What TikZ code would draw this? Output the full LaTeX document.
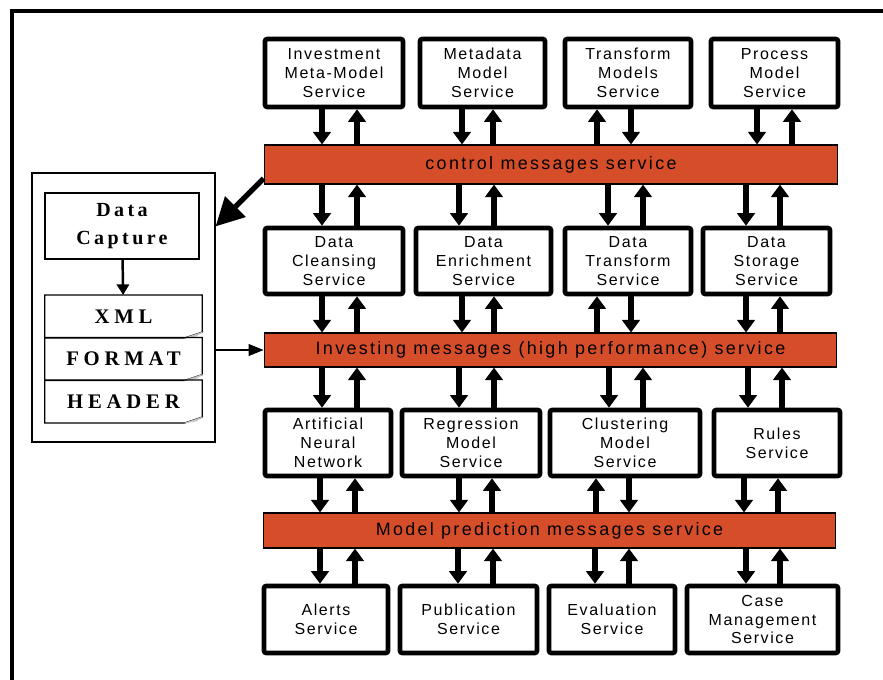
\documentclass[tikz,border=0pt]{standalone}
\usepackage{fontspec}
\usetikzlibrary{arrows.meta}

\newfontfamily\svcfont[LetterSpace=10]{Liberation Sans}
\newfontfamily\barfont[LetterSpace=13]{Liberation Sans}
\newfontfamily\capfont[LetterSpace=17]{Liberation Serif}
\newfontfamily\docfont[LetterSpace=23]{Liberation Serif}
\definecolor{barred}{RGB}{214,77,42}

\begin{document}
\begin{tikzpicture}[x=0.02cm, y=-0.02cm,
    svc/.style={draw, line width=2.6pt, fill=white, rounded corners=1.2pt, align=center,
      inner sep=0pt, font=\svcfont\fontsize{9.1}{10.8}\selectfont},
    msgbar/.style={draw, line width=0.6pt, fill=barred, inner sep=0pt,
      font=\barfont\fontsize{10.2}{12}\selectfont},
    flow/.style={line width=3.1pt, -{Triangle[length=7.2pt, width=10pt]}},
    doc/.style={inner sep=0pt, minimum width=3.14cm, minimum height=0.85cm,
      font=\docfont\bfseries\fontsize{11.8}{14}\selectfont},
    docline/.style={line width=0.7pt}]
  \useasboundingbox (0,0) rectangle (883,680);
  % frame
  \draw[line width=2.5pt] (12,680) -- (12,11) -- (883,11);

  % services
  \node[svc, minimum width=2.76cm, minimum height=1.36cm] (inv) at (334,73) {Investment\\Meta-Model\\Service};
  \node[svc, minimum width=2.5cm, minimum height=1.36cm] (meta) at (482.5,73) {Metadata\\Model\\Service};
  \node[svc, minimum width=2.52cm, minimum height=1.36cm] (trm) at (628,73) {Transform\\Models\\Service};
  \node[svc, minimum width=2.54cm, minimum height=1.36cm] (proc) at (774.5,73) {Process\\Model\\Service};

  \node[svc, minimum width=2.76cm, minimum height=1.32cm] (clean) at (334,261) {Data\\Cleansing\\Service};
  \node[svc, minimum width=2.7cm, minimum height=1.32cm] (enrich) at (483.5,261) {Data\\Enrichment\\Service};
  \node[svc, minimum width=2.52cm, minimum height=1.32cm] (dtrans) at (628,261) {Data\\Transform\\Service};
  \node[svc, minimum width=2.54cm, minimum height=1.32cm] (store) at (766.5,261) {Data\\Storage\\Service};

  \node[svc, minimum width=2.52cm, minimum height=1.32cm] (ann) at (328,443) {Artificial\\Neural\\Network};
  \node[svc, minimum width=2.76cm, minimum height=1.32cm] (regr) at (471,443) {Regression\\Model\\Service};
  \node[svc, minimum width=3.0cm, minimum height=1.32cm] (clus) at (625,443) {Clustering\\Model\\Service};
  \node[svc, minimum width=2.52cm, minimum height=1.32cm] (rules) at (777,443) {Rules\\Service};

  \node[svc, minimum width=2.48cm, minimum height=1.34cm] (alert) at (326,619.5) {Alerts\\Service};
  \node[svc, minimum width=2.74cm, minimum height=1.34cm] (pub) at (468.5,619.5) {Publication\\Service};
  \node[svc, minimum width=2.52cm, minimum height=1.34cm] (eval) at (612,619.5) {Evaluation\\Service};
  \node[svc, minimum width=3.02cm, minimum height=1.34cm] (case) at (762.5,619.5) {Case\\Management\\Service};

  % message bars
  \node[msgbar, minimum width=11.48cm, minimum height=0.78cm] (ctrl) at (551,164.5) {control messages service};
  \node[msgbar, minimum width=11.46cm, minimum height=0.68cm] (ibar) at (550.5,350) {Investing messages (high performance) service};
  \node[msgbar, minimum width=11.46cm, minimum height=0.7cm] (pred) at (549.5,530.5) {Model prediction messages service};

  % upper/lower node, x of down arrow, x of up arrow
  \foreach \a/\b/\xd/\xu in {inv/ctrl/322/357, meta/ctrl/462/493, trm/ctrl/631/597, proc/ctrl/757/792,
      ctrl/clean/322/357, ctrl/enrich/459/494, ctrl/dtrans/608/643, ctrl/store/746/780,
      clean/ibar/322/357, enrich/ibar/462/494, dtrans/ibar/631/597, store/ibar/746/780,
      ibar/ann/322/357, ibar/regr/459/494, ibar/clus/609/643, ibar/rules/748/782,
      ann/pred/320/355, regr/pred/459/492, clus/pred/629/596, rules/pred/744/778,
      pred/alert/320/355, pred/pub/458/493, pred/eval/595/629, pred/case/746/780}{
    \draw[flow] (\a.south -| \xd,0) -- (\b.north -| \xd,0);
    \draw[flow] (\b.north -| \xu,0) -- (\a.south -| \xu,0);
  }

  % data capture panel
  \node[draw, line width=0.7pt, minimum width=3.66cm, minimum height=5.38cm] (panel) at (123.5,307.5) {};
  \node[draw, line width=0.7pt, minimum width=3.08cm, minimum height=1.32cm, align=center,
    font=\capfont\bfseries\fontsize{11.4}{15.9}\selectfont] (cap) at (122,226) {Data\\Capture};
  \node[doc] (xml) at (123.5,316.5) {XML};
  \node[doc] (fmt) at (123.5,359) {FORMAT};
  \node[doc] (hdr) at (123.5,401.5) {HEADER};
  \foreach \d in {xml,fmt,hdr}{
    \draw[docline] (\d.south west) -- (\d.north west) -- (\d.north east)
      -- ([yshift=0.12cm]\d.south east) -- ([xshift=-0.36cm]\d.south east) -- cycle;
    \filldraw[gray!45, line width=0.3pt] ([xshift=-0.36cm]\d.south east) -- ([yshift=0.12cm]\d.south east)
      -- ([xshift=-0.12cm,yshift=0.04cm]\d.south east) -- cycle;
  }
  \draw[line width=1.4pt, -{Triangle[length=6pt, width=7pt]}] (cap) -- (xml);
  \draw[line width=0.6pt, -{Triangle[length=8.5pt, width=6.8pt]}] (panel.east |- ibar.west) -- (ibar.west);
  \draw[line width=3pt, -{Triangle[length=16pt, width=16pt]}] ([yshift=0.12cm]ctrl.south west) -- ([yshift=-1.08cm]panel.north east);
\end{tikzpicture}
\end{document}
